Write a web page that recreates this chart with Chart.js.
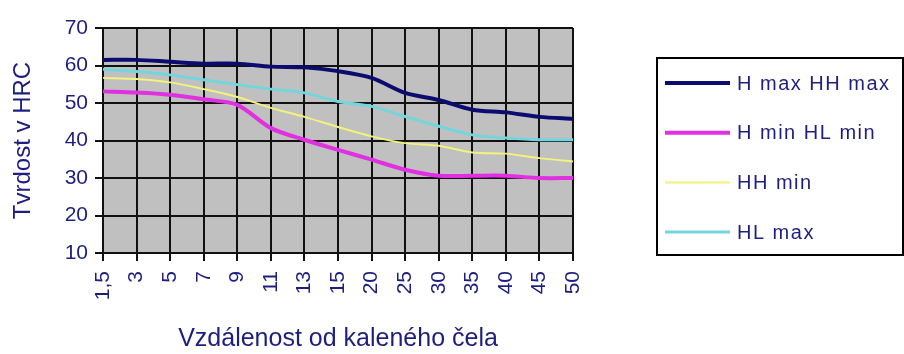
<!DOCTYPE html>
<html>
<head>
<meta charset="utf-8">
<script src="https://cdn.jsdelivr.net/npm/chart.js@4"></script>
<style>
  html, body { margin: 0; padding: 0; background: #ffffff; }
  #wrap { width: 904px; height: 354px; position: relative; }
</style>
</head>
<body>
<div id="wrap"><canvas id="c" width="904" height="354"></canvas></div>
<script>
const categories = ["1,5", "3", "5", "7", "9", "11", "13", "15", "20", "25", "30", "35", "40", "45", "50"];
const hmaxHHmax = [61.5, 61.5, 61, 60.5, 60.5, 59.7, 59.5, 58.5, 56.7, 52.7, 50.8, 48.2, 47.5, 46.3, 45.8];
const hminHLmin = [53.1, 52.8, 52.2, 51, 49.5, 43.3, 40.2, 37.5, 34.9, 32.2, 30.6, 30.6, 30.6, 30, 30];
const hhMin     = [56.7, 56.4, 55.5, 53.7, 51.6, 48.7, 46.3, 43.6, 41.1, 39.3, 38.6, 36.8, 36.5, 35.3, 34.4];
const hlMax     = [59, 58.4, 57.5, 56.2, 54.9, 53.7, 52.7, 50.4, 49.1, 46.4, 43.8, 41.5, 40.7, 40.2, 40.2];
const seriesNames = ["H max HH max", "H min HL min", "HH min", "HL max"];
const yTicks = [10, 20, 30, 40, 50, 60, 70];
const yTitle = "Tvrdost v HRC";
const xTitle = "Vzdálenost od kaleného čela";

const textColor = "#1e1e80";
const fontFamily = "'Liberation Sans', Arial, sans-serif";

const plotBg = {
  id: "plotBg",
  beforeDraw(chart) {
    const a = chart.chartArea, ctx = chart.ctx;
    ctx.save();
    ctx.fillStyle = "#c0c0c0";
    ctx.fillRect(a.left, a.top, a.right - a.left, a.bottom - a.top);
    ctx.restore();
  }
};

const boxLegend = {
  id: "boxLegend",
  afterDraw(chart) {
    const ctx = chart.ctx;
    const bx = 657, by = 58, bw = 246, bh = 197;
    ctx.save();
    ctx.fillStyle = "#ffffff";
    ctx.fillRect(bx, by, bw, bh);
    ctx.strokeStyle = "#000000";
    ctx.lineWidth = 2;
    ctx.strokeRect(bx, by, bw, bh);
    chart.data.datasets.forEach((ds, i) => {
      const y = 83 + i * 49.7;
      ctx.strokeStyle = ds.borderColor;
      ctx.lineWidth = ds.borderWidth;
      ctx.beginPath();
      ctx.moveTo(665, y);
      ctx.lineTo(730, y);
      ctx.stroke();
      ctx.fillStyle = textColor;
      ctx.font = "20px " + fontFamily;
      try { ctx.letterSpacing = "1.5px"; } catch (e) {}
      ctx.textBaseline = "middle";
      ctx.textAlign = "left";
      ctx.fillText(ds.label, 737, y + 1);
      try { ctx.letterSpacing = "0px"; } catch (e) {}
    });
    ctx.restore();
  }
};

new Chart(document.getElementById("c"), {
  type: "line",
  data: {
    labels: categories,
    datasets: [
      { label: seriesNames[0], data: hmaxHHmax, borderColor: "#0c0c6e", borderWidth: 4 },
      { label: seriesNames[1], data: hminHLmin, borderColor: "#e030e0", borderWidth: 4 },
      { label: seriesNames[2], data: hhMin, borderColor: "#f2f27c", borderWidth: 2 },
      { label: seriesNames[3], data: hlMax, borderColor: "#72d6dc", borderWidth: 3 }
    ].map(d => Object.assign(d, { pointRadius: 0, tension: 0.3, fill: false }))
  },
  options: {
    responsive: false,
    animation: false,
    layout: { padding: { left: 0, top: 28, right: 331, bottom: 0 } },
    plugins: { legend: { display: false }, tooltip: { enabled: false } },
    scales: {
      x: {
        type: "category",
        offset: false,
        grid: { color: "#111111", lineWidth: 2, tickLength: 8, offset: false },
        border: { color: "#111111", width: 2 },
        ticks: {
          autoSkip: false, minRotation: 90, maxRotation: 90, padding: 10,
          color: textColor, font: { family: fontFamily, size: 21 }
        },
        title: {
          display: true, text: xTitle, color: textColor,
          font: { family: fontFamily, size: 25 }, padding: { top: 0, bottom: 0 }
        },
        afterFit(scale) { scale.height = 101; }
      },
      y: {
        min: 10, max: 70,
        afterBuildTicks(scale) { scale.ticks = yTicks.map(v => ({ value: v })); },
        grid: { color: "#111111", lineWidth: 2, tickLength: 8 },
        border: { color: "#111111", width: 2 },
        ticks: { padding: 7, color: textColor, font: { family: fontFamily, size: 21 } },
        title: {
          display: true, text: yTitle, color: textColor,
          font: { family: fontFamily, size: 24 }, padding: { top: 9, bottom: 0 }
        },
        afterFit(scale) { scale.width = 103; }
      }
    }
  },
  plugins: [plotBg, boxLegend]
});
</script>
</body>
</html>
